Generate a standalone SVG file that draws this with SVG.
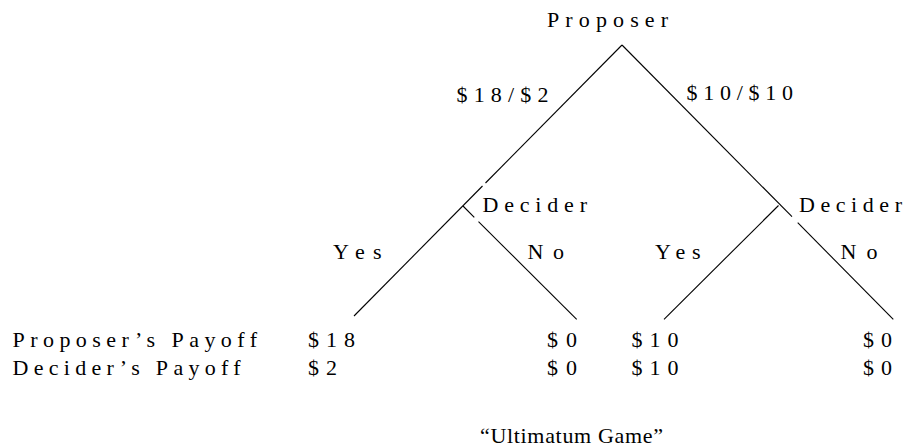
<svg xmlns="http://www.w3.org/2000/svg" width="907" height="448" viewBox="0 0 907 448">
<style>
text{font-family:"Liberation Serif","Times New Roman",serif;font-size:22px;fill:#000}
.e{stroke:#000;stroke-width:1.1;fill:none}
</style>
<rect width="907" height="448" fill="#fff"/>
<g id="connectors">
<line class="e" x1="622" y1="45" x2="485.5" y2="183"/>
<line class="e" x1="482.5" y1="186" x2="354" y2="316"/>
<line class="e" x1="463" y1="206" x2="474.3" y2="217.3"/>
<line class="e" x1="478.5" y1="221.6" x2="576.7" y2="319.3"/>
<line class="e" x1="622" y1="45" x2="792" y2="216.7"/>
<line class="e" x1="797.7" y1="222.7" x2="893.3" y2="319.3"/>
<line class="e" x1="778.5" y1="205.5" x2="664" y2="319.3"/>
<text x="456.5" y="102" textLength="92" lengthAdjust="spacing">$18/$2</text>
<text x="686.5" y="100" textLength="106.5" lengthAdjust="spacing">$10/$10</text>
<text x="333" y="259" textLength="48.5" lengthAdjust="spacing">Yes</text>
<text x="527.5" y="259" textLength="36.5" lengthAdjust="spacing">No</text>
<text x="655" y="259" textLength="45.5" lengthAdjust="spacing">Yes</text>
<text x="840.5" y="259" textLength="37" lengthAdjust="spacing">No</text>
</g>
<g id="proposer">
<text x="547" y="27" textLength="121" lengthAdjust="spacing">Proposer</text>
</g>
<g id="decider-left">
<text x="482.5" y="212" textLength="104.5" lengthAdjust="spacing">Decider</text>
</g>
<g id="decider-right">
<text x="799" y="212" textLength="103" lengthAdjust="spacing">Decider</text>
</g>
<g id="row-labels">
<text x="12.5" y="347" textLength="244.5" lengthAdjust="spacing">Proposer’s Payoff</text>
<text x="12.5" y="375" textLength="228" lengthAdjust="spacing">Decider’s Payoff</text>
</g>
<g id="leaf-yes-left">
<text x="308" y="347" textLength="47" lengthAdjust="spacing">$18</text>
<text x="308" y="375" textLength="29" lengthAdjust="spacing">$2</text>
</g>
<g id="leaf-no-left">
<text x="547" y="347" textLength="30" lengthAdjust="spacing">$0</text>
<text x="547" y="375" textLength="30" lengthAdjust="spacing">$0</text>
</g>
<g id="leaf-yes-right">
<text x="631.5" y="347" textLength="47" lengthAdjust="spacing">$10</text>
<text x="631.5" y="375" textLength="47" lengthAdjust="spacing">$10</text>
</g>
<g id="leaf-no-right">
<text x="863" y="347" textLength="29" lengthAdjust="spacing">$0</text>
<text x="863" y="375" textLength="29" lengthAdjust="spacing">$0</text>
</g>
<g id="title">
<text x="480" y="443" textLength="183" lengthAdjust="spacing">“Ultimatum Game”</text>
</g>
</svg>
